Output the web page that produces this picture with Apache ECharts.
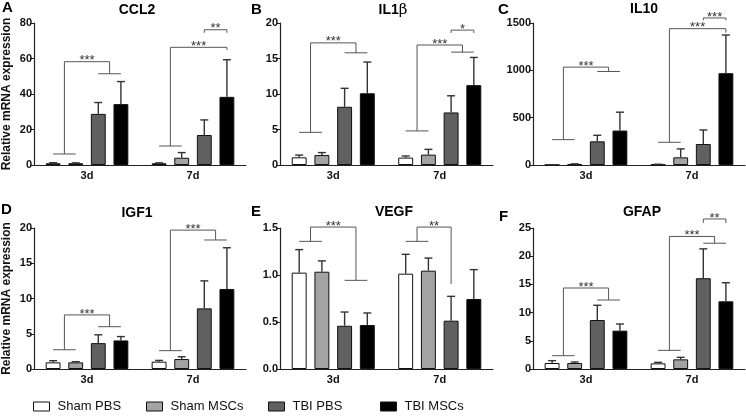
<!DOCTYPE html>
<html>
<head>
<meta charset="utf-8">
<script src="https://cdn.jsdelivr.net/npm/echarts@6.0.0/dist/echarts.min.js"></script>
<style>
  html, body { margin: 0; padding: 0; background: #fff; }
  #chart { width: 746px; height: 416px; }
</style>
</head>
<body>
<div id="chart"></div>
<script>
// categories and groups
const categories = ['3d', '7d']
const groups = ['Sham PBS', 'Sham MSCs', 'TBI PBS', 'TBI MSCs']
const groupColors = ['#ffffff', '#a3a3a3', '#606060', '#000000']

const panelLetters = ['A', 'B', 'C', 'D', 'E', 'F']
const panelTitles = ['CCL2', '{a|IL1}{b|β}', 'IL10', 'IGF1', 'VEGF', 'GFAP']
const yMax = [80, 20, 1500, 20, 1.5, 25]
const yStep = [20, 5, 500, 5, 0.5, 5]

// means per group: [3d, 7d]
const ccl2Mean = [[1.0, 1.0], [1.0, 4.1], [28.8, 16.9], [34.3, 38.4]]
const ccl2Err = [[0.3, 0.2], [0.2, 2.9], [6.4, 8.5], [12.7, 20.9]]
const il1bMean = [[1.08, 1.04], [1.4, 1.46], [8.2, 7.4], [10.1, 11.25]]
const il1bErr = [[0.32, 0.23], [0.35, 0.74], [2.6, 2.35], [4.4, 3.9]]
const il10Mean = [[2, 5], [8, 81], [250, 222], [364, 970]]
const il10Err = [[1, 3], [4, 89], [64, 148], [194, 403]]
const igf1Mean = [[0.94, 1.04], [0.94, 1.41], [3.67, 8.6], [4.05, 11.35]]
const igf1Err = [[0.24, 0.18], [0.1, 0.33], [1.18, 3.9], [0.55, 5.85]]
const vegfMean = [[1.025, 1.014], [1.035, 1.046], [0.46, 0.514], [0.468, 0.745]]
const vegfErr = [[0.245, 0.206], [0.115, 0.134], [0.146, 0.259], [0.128, 0.312]]
const gfapMean = [[1.06, 1.0], [1.06, 1.71], [8.69, 16.1], [6.8, 12.0]]
const gfapErr = [[0.42, 0.18], [0.18, 0.36], [2.61, 5.2], [1.18, 3.3]]

// significance brackets: cat, left bars, right bars, left/top/right heights, label
const ccl2Sig = [
  { cat: 0, left: [0, 1], right: [2, 3], yL: 6.2, yTop: 58.2, yR: 51.4, label: '***' },
  { cat: 1, left: [0, 1], right: [3, 3], yL: 10.7, yTop: 66.3, yR: 64.8, label: '***' },
  { cat: 1, left: [2, 2], right: [3, 3], yL: 74.5, yTop: 76.2, yR: 74.5, label: '**' }
]
const il1bSig = [
  { cat: 0, left: [0, 1], right: [2, 3], yL: 4.6, yTop: 17.2, yR: 15.8, label: '***' },
  { cat: 1, left: [0, 1], right: [2, 3], yL: 4.8, yTop: 16.9, yR: 15.9, label: '***' },
  { cat: 1, left: [2, 2], right: [3, 3], yL: 18.6, yTop: 19.0, yR: 18.6, label: '*' }
]
const il10Sig = [
  { cat: 0, left: [0, 1], right: [2, 3], yL: 268, yTop: 1034, yR: 988, label: '***' },
  { cat: 1, left: [0, 1], right: [3, 3], yL: 240, yTop: 1440, yR: 1398, label: '***' },
  { cat: 1, left: [2, 2], right: [3, 3], yL: 1528, yTop: 1553, yR: 1528, label: '***' }
]
const igf1Sig = [
  { cat: 0, left: [0, 1], right: [2, 3], yL: 2.73, yTop: 7.67, yR: 6.0, label: '***' },
  { cat: 1, left: [0, 1], right: [2, 3], yL: 2.6, yTop: 19.7, yR: 18.3, label: '***' }
]
const vegfSig = [
  { cat: 0, left: [0, 1], right: [2, 3], yL: 1.358, yTop: 1.51, yR: 0.943, label: '***' },
  { cat: 1, left: [0, 1], right: [2, 2], yL: 1.358, yTop: 1.51, yR: 0.904, label: '**' }
]
const gfapSig = [
  { cat: 0, left: [0, 1], right: [2, 3], yL: 2.36, yTop: 14.36, yR: 12.23, label: '***' },
  { cat: 1, left: [0, 1], right: [2, 3], yL: 3.31, yTop: 23.5, yR: 22.3, label: '***' },
  { cat: 1, left: [2, 2], right: [3, 3], yL: 25.9, yTop: 26.6, yR: 25.9, label: '**' }
]

const means = [ccl2Mean, il1bMean, il10Mean, igf1Mean, vegfMean, gfapMean]
const errs = [ccl2Err, il1bErr, il10Err, igf1Err, vegfErr, gfapErr]
const sigs = [ccl2Sig, il1bSig, il10Sig, igf1Sig, vegfSig, gfapSig]

const FONT = '"Liberation Sans", Arial, sans-serif'
const CAT_GAP = 0.22
const BAR_GAP = 0.52

const grids = [
  { left: 33, top: 23, width: 213, height: 142 },
  { left: 280, top: 23, width: 213, height: 142 },
  { left: 533, top: 23, width: 212, height: 142 },
  { left: 33, top: 228, width: 213, height: 141 },
  { left: 280, top: 228, width: 213, height: 141 },
  { left: 533, top: 228, width: 212, height: 141 }
]

// x of bar i inside a category band
function barX (api, cat, i) {
  const band = api.size([1, 0])[0]
  const w = band * (1 - CAT_GAP) / (4 + 3 * BAR_GAP)
  const step = w * (1 + BAR_GAP)
  return api.coord([cat, 0])[0] + (i - 1.5) * step
}

const lineStyle = { stroke: '#555', lineWidth: 1, fill: null }

function errRender (params, api) {
  const cat = api.value(0)
  const g = api.value(1)
  const x = barX(api, cat, g)
  const y1 = api.coord([cat, api.value(2)])[1]
  const y2 = api.coord([cat, api.value(3)])[1]
  const st = { stroke: '#333', lineWidth: 1.4 }
  return {
    type: 'group',
    children: [
      { type: 'line', shape: { x1: x, y1: y1, x2: x, y2: y2 }, style: st },
      { type: 'line', shape: { x1: x - 4, y1: y2, x2: x + 4, y2: y2 }, style: st }
    ]
  }
}

function sigRender (list) {
  return function (params, api) {
    const b = list[params.dataIndex]
    const y = v => api.coord([b.cat, v])[1]
    const l0 = barX(api, b.cat, b.left[0])
    const l1 = barX(api, b.cat, b.left[1])
    const r0 = barX(api, b.cat, b.right[0])
    const r1 = barX(api, b.cat, b.right[1])
    const lm = (l0 + l1) / 2
    const rm = (r0 + r1) / 2
    const children = []
    if (b.left[0] !== b.left[1]) {
      children.push({ type: 'line', shape: { x1: l0, y1: y(b.yL), x2: l1, y2: y(b.yL) }, style: lineStyle })
    }
    if (b.right[0] !== b.right[1]) {
      children.push({ type: 'line', shape: { x1: r0, y1: y(b.yR), x2: r1, y2: y(b.yR) }, style: lineStyle })
    }
    children.push({
      type: 'polyline',
      shape: { points: [[lm, y(b.yL)], [lm, y(b.yTop)], [rm, y(b.yTop)], [rm, y(b.yR)]] },
      style: lineStyle
    })
    children.push({
      type: 'text',
      x: (lm + rm) / 2,
      y: y(b.yTop) - 1,
      style: { text: b.label, align: 'center', verticalAlign: 'middle', font: '13px ' + FONT, fill: '#333' }
    })
    return { type: 'group', children: children }
  }
}

const xAxes = grids.map((g, i) => ({
  type: 'category',
  gridIndex: i,
  data: categories,
  axisLine: { lineStyle: { color: '#222', width: 1.2 } },
  axisTick: { alignWithLabel: true, length: 3, lineStyle: { color: '#222' } },
  axisLabel: { color: '#111', fontWeight: 'bold', fontSize: 11, fontFamily: FONT, margin: 5 }
}))

const yAxes = grids.map((g, i) => ({
  type: 'value',
  gridIndex: i,
  min: 0,
  max: yMax[i],
  interval: yStep[i],
  name: i % 3 === 0 ? 'Relative mRNA expression' : '',
  nameLocation: 'middle',
  nameGap: 21,
  nameTextStyle: { color: '#111', fontWeight: 'bold', fontSize: 12, fontFamily: FONT },
  axisLine: { show: true, lineStyle: { color: '#222', width: 1.2 } },
  axisTick: { show: true, length: 4, lineStyle: { color: '#222' } },
  splitLine: { show: false },
  axisLabel: {
    color: '#111', fontWeight: 'bold', fontSize: 11, fontFamily: FONT, margin: 2,
    formatter: v => (i === 4 ? v.toFixed(1) : String(v))
  }
}))

const series = []
grids.forEach((g, p) => {
  groups.forEach((name, k) => {
    series.push({
      type: 'bar',
      name: name,
      xAxisIndex: p,
      yAxisIndex: p,
      data: means[p][k],
      barGap: (BAR_GAP * 100) + '%',
      barCategoryGap: (CAT_GAP * 100) + '%',
      itemStyle: { color: groupColors[k], borderColor: '#111', borderWidth: 1 },
      emphasis: { disabled: true },
      animation: false
    })
  })
  const errData = []
  groups.forEach((name, k) => {
    categories.forEach((c, ci) => {
      errData.push([ci, k, means[p][k][ci], means[p][k][ci] + errs[p][k][ci]])
    })
  })
  series.push({
    type: 'custom',
    xAxisIndex: p,
    yAxisIndex: p,
    renderItem: errRender,
    data: errData,
    encode: { x: 0, y: 3 },
    z: 3,
    silent: true,
    animation: false
  })
  series.push({
    type: 'custom',
    xAxisIndex: p,
    yAxisIndex: p,
    renderItem: sigRender(sigs[p]),
    data: sigs[p].map(b => [b.cat, b.yTop]),
    encode: { x: 0, y: 1 },
    clip: false,
    z: 4,
    silent: true,
    animation: false
  })
})

const legendLeft = [33, 146, 268, 380]
const legends = groups.map((name, k) => ({
  data: [name],
  left: legendLeft[k],
  top: 400,
  padding: 0,
  icon: 'rect',
  itemWidth: 16,
  itemHeight: 9,
  itemStyle: { borderColor: '#111', borderWidth: 1 },
  textStyle: { fontSize: 13, fontFamily: FONT, color: '#111', padding: [0, 0, 0, 3] },
  selectedMode: false
}))

const letterPos = [[2, 8], [251, 10], [498, 10], [1, 210], [251, 212], [499, 217]]
const titlePos = [[137, 10], [393, 10], [644, 9], [137, 213], [394, 212], [642, 212]]

const graphics = []
panelLetters.forEach((t, i) => {
  graphics.push({
    type: 'text', x: letterPos[i][0], y: letterPos[i][1],
    style: { text: t, font: 'bold 15px ' + FONT, fill: '#000', align: 'left', verticalAlign: 'middle' }
  })
})
panelTitles.forEach((t, i) => {
  graphics.push({
    type: 'text', x: titlePos[i][0], y: titlePos[i][1],
    style: {
      text: t, font: 'bold 14px ' + FONT, fill: '#000', align: 'center', verticalAlign: 'middle',
      rich: {
        a: { font: 'bold 14px ' + FONT, fill: '#000' },
        b: { font: '15px "DejaVu Serif", serif', fill: '#000' }
      }
    }
  })
})

const chart = echarts.init(document.getElementById('chart'), null, { renderer: 'canvas' })
chart.setOption({
  animation: false,
  backgroundColor: '#fff',
  grid: grids,
  xAxis: xAxes,
  yAxis: yAxes,
  legend: legends,
  graphic: graphics,
  series: series
})
</script>
</body>
</html>
